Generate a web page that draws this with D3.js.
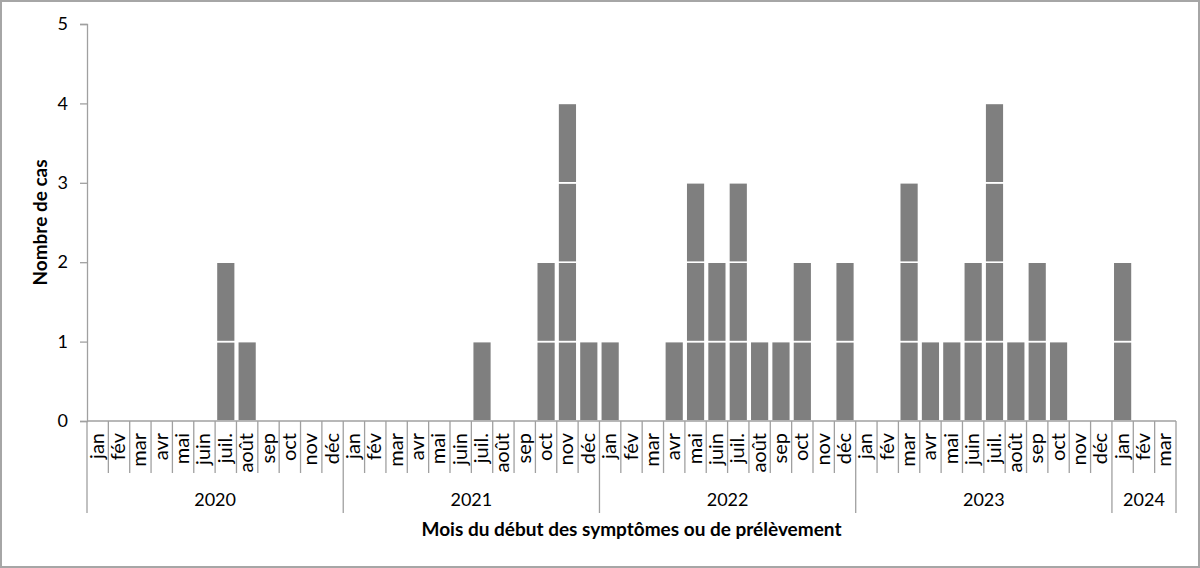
<!DOCTYPE html>
<html>
<head>
<meta charset="utf-8">
<script src="https://cdn.jsdelivr.net/npm/d3@7"></script>
<style>
  body { margin: 0; background: #fff; }
  svg { display: block; font-family: Lato, "Open Sans", sans-serif; }
</style>
</head>
<body>
<div id="chart"></div>
<script>
// data
var years = ["2020", "2021", "2022", "2023", "2024"];
var monthsPerYear = [12, 12, 12, 12, 3];
var monthNames = ["jan", "fév", "mar", "avr", "mai", "juin", "juil.", "août", "sep", "oct", "nov", "déc"];
var cases2020 = [0, 0, 0, 0, 0, 0, 2, 1, 0, 0, 0, 0];
var cases2021 = [0, 0, 0, 0, 0, 0, 1, 0, 0, 2, 4, 1];
var cases2022 = [1, 0, 0, 1, 3, 2, 3, 1, 1, 2, 0, 2];
var cases2023 = [0, 0, 3, 1, 1, 2, 4, 1, 2, 1, 0, 0];
var cases2024 = [2, 0, 0];
var yTicks = [0, 1, 2, 3, 4, 5];

var svgWidth = 1200;
var svgHeight = 568;

var margin = { top: 24, left: 87, right: 24, bottom: 147 };
var plotRight = 1176;
var plotBottom = svgHeight - margin.bottom; // 421

// flatten into one list of months
var allCases = [cases2020, cases2021, cases2022, cases2023, cases2024];
var monthData = [];
allCases.forEach(function(arr, yi) {
  arr.forEach(function(v, mi) {
    monthData.push({ year: years[yi], month: monthNames[mi], value: v });
  });
});

var svg = d3.select("#chart")
  .append("svg")
  .attr("width", svgWidth)
  .attr("height", svgHeight);

// outer frame
svg.append("rect")
  .attr("x", 1).attr("y", 1)
  .attr("width", svgWidth - 2).attr("height", svgHeight - 2)
  .attr("fill", "#fff")
  .attr("stroke", "#a6a6a6")
  .attr("stroke-width", 2);

// scales
var xIdx = d3.scaleLinear()
  .domain([0, monthData.length])
  .range([margin.left, plotRight]);

var yScale = d3.scaleLinear()
  .domain([0, 5])
  .range([plotBottom, margin.top]);

// y axis
var yAxis = d3.axisLeft(yScale)
  .tickValues(yTicks)
  .tickFormat(d3.format("d"))
  .tickSize(7)
  .tickPadding(12);

var yG = svg.append("g")
  .attr("transform", `translate(${margin.left},0)`)
  .call(yAxis);
yG.select(".domain").attr("stroke", "#a0a0a0").attr("stroke-width", 1.3);
yG.selectAll(".tick line").attr("stroke", "#a0a0a0").attr("stroke-width", 1.3);
yG.selectAll(".tick text")
  .attr("font-size", 18)
  .attr("fill", "#000")
  .attr("font-family", "Lato, sans-serif");

// bars: one box per case
var segs = [];
monthData.forEach(function(d, i) {
  for (var k = 0; k < d.value; k++) {
    segs.push({ i: i, k: k });
  }
});

svg.append("g")
  .selectAll("rect")
  .data(segs)
  .enter()
  .append("rect")
  .attr("x", function(d) { return xIdx(d.i + 0.06); })
  .attr("width", function(d) { return xIdx(d.i + 0.94) - xIdx(d.i + 0.06); })
  .attr("y", function(d) { return yScale(d.k + 1); })
  .attr("height", function(d) { return yScale(d.k) - yScale(d.k + 1); })
  .attr("fill", "#7f7f7f")
  .attr("stroke", "#ffffff")
  .attr("stroke-width", 1.6);

// x axis line
var axisColor = "#a0a0a0";
svg.append("line")
  .attr("x1", margin.left).attr("x2", plotRight)
  .attr("y1", plotBottom).attr("y2", plotBottom)
  .attr("stroke", axisColor).attr("stroke-width", 1.3);

// month separators
var yearStarts = [0];
monthsPerYear.forEach(function(n, i) { yearStarts.push(yearStarts[i] + n); });

var xAxisG = svg.append("g");
d3.range(monthData.length + 1).forEach(function(i) {
  var isYear = yearStarts.indexOf(i) >= 0;
  xAxisG.append("line")
    .attr("x1", xIdx(i)).attr("x2", xIdx(i))
    .attr("y1", plotBottom)
    .attr("y2", isYear ? 513 : 473)
    .attr("stroke", axisColor)
    .attr("stroke-width", 1.3);
});

// month labels (rotated)
xAxisG.selectAll("text.month")
  .data(monthData)
  .enter()
  .append("text")
  .attr("class", "month")
  .attr("transform", function(d, i) {
    return `translate(${xIdx(i + 0.5) + 6}, 433)rotate(-90)`;
  })
  .attr("text-anchor", "end")
  .attr("font-size", 20)
  .attr("fill", "#000")
  .text(function(d) { return d.month; });

// year labels
xAxisG.selectAll("text.year")
  .data(years)
  .enter()
  .append("text")
  .attr("class", "year")
  .attr("x", function(d, i) { return (xIdx(yearStarts[i]) + xIdx(yearStarts[i + 1])) / 2; })
  .attr("y", 506)
  .attr("text-anchor", "middle")
  .attr("font-size", 18)
  .attr("fill", "#000")
  .text(function(d) { return d; });

// axis titles
svg.append("text")
  .attr("x", (margin.left + plotRight) / 2)
  .attr("y", 536)
  .attr("text-anchor", "middle")
  .attr("font-size", 19)
  .attr("font-weight", "bold")
  .text("Mois du début des symptômes ou de prélèvement");

svg.append("text")
  .attr("transform", `translate(47, ${(margin.top + plotBottom) / 2})rotate(-90)`)
  .attr("text-anchor", "middle")
  .attr("font-size", 19)
  .attr("font-weight", "bold")
  .text("Nombre de cas");
</script>
</body>
</html>
